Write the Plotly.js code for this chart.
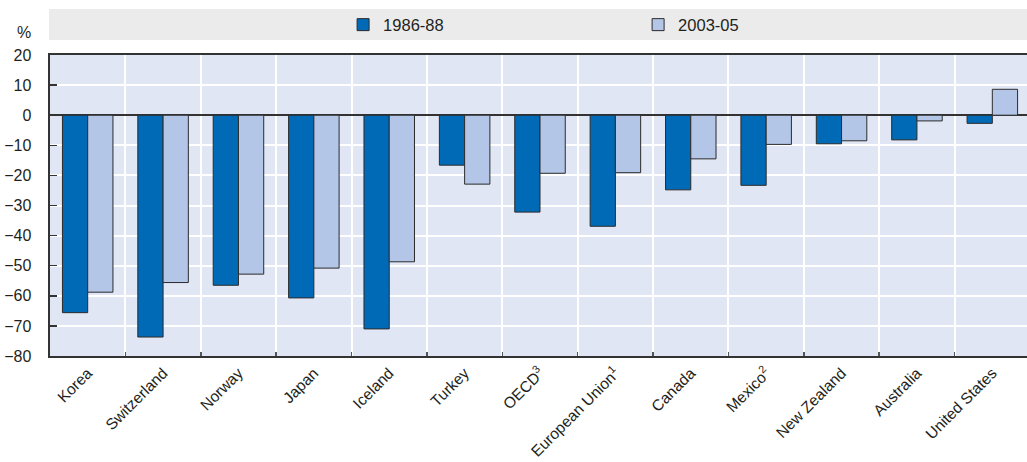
<!DOCTYPE html>
<html>
<head>
<meta charset="utf-8">
<script src="https://cdn.plot.ly/plotly-3.0.1.min.js"></script>
<style>
  html, body { margin: 0; padding: 0; background: #ffffff; overflow: hidden; }
  #chart { width: 1027px; height: 462px; }
</style>
</head>
<body>
<div id="chart"></div>
<script>
const categories = ["Korea", "Switzerland", "Norway", "Japan", "Iceland", "Turkey", "OECD<sup>3</sup>", "European Union<sup>1</sup>", "Canada", "Mexico<sup>2</sup>", "New Zealand", "Australia", "United States"];
const seriesNames = ["1986-88", "2003-05"];
const values1986_88 = [-65.6, -73.7, -56.5, -60.7, -71.0, -16.6, -32.2, -36.9, -24.8, -23.3, -9.5, -8.2, -2.7];
const values2003_05 = [-58.8, -55.6, -52.8, -50.8, -48.7, -22.9, -19.3, -19.1, -14.5, -9.7, -8.5, -1.9, 8.6];
const yTickValues = [-80, -70, -60, -50, -40, -30, -20, -10, 0, 10, 20];

const FONT = '"Liberation Sans Narrow", "Arial Narrow", "Liberation Sans", Arial, sans-serif';
const TXT = '#231f20';

const traces = [
  {
    type: 'bar', name: seriesNames[0], x: categories, y: values1986_88,
    marker: { color: '#006ab7', line: { color: '#2b2b2b', width: 1 } }
  },
  {
    type: 'bar', name: seriesNames[1], x: categories, y: values2003_05,
    marker: { color: '#b4c6e7', line: { color: '#2b2b2b', width: 1 } }
  }
];

const layout = {
  width: 1027, height: 462,
  margin: { l: 50, r: 0, t: 55, b: 106 },
  paper_bgcolor: '#ffffff',
  plot_bgcolor: '#e0e6f3',
  font: { family: FONT, size: 16, color: TXT },
  barmode: 'group',
  bargap: 0.33,
  bargroupgap: 0,
  showlegend: true,
  legend: {
    orientation: 'h',
    x: 0.3, xanchor: 'left',
    y: 1.1, yanchor: 'middle',
    bgcolor: 'rgba(0,0,0,0)',
    font: { family: FONT, size: 16.5, color: TXT },
    entrywidth: 250, entrywidthmode: 'pixels',
    traceorder: 'normal'
  },
  xaxis: {
    type: 'category',
    range: [-0.5, 12.46],
    tickson: 'boundaries',
    ticks: 'inside', ticklen: 4, tickcolor: '#555555', tickwidth: 1.5,
    showgrid: true, gridcolor: '#ffffff', gridwidth: 2,
    showline: true, linecolor: '#333333', linewidth: 2, mirror: true,
    tickangle: -45,
    tickfont: { family: FONT, size: 15.5, color: TXT },
    fixedrange: true
  },
  yaxis: {
    range: [-80, 20],
    tickvals: yTickValues,
    ticks: 'inside', ticklen: 7, tickcolor: '#333333', tickwidth: 1.5,
    showgrid: true, gridcolor: '#ffffff', gridwidth: 2,
    showline: true, linecolor: '#333333', linewidth: 2.5,
    zeroline: true, zerolinecolor: '#333333', zerolinewidth: 2,
    ticklabelstandoff: 13,
    tickfont: { family: FONT, size: 16, color: TXT },
    fixedrange: true
  },
  shapes: [
    {
      type: 'rect', xref: 'paper', yref: 'paper',
      x0: -0.001, x1: 1, y0: 1.0498, y1: 1.1528,
      fillcolor: '#ebebeb', line: { width: 0 }, layer: 'below'
    }
  ],
  annotations: [
    {
      text: '%', xref: 'paper', yref: 'paper',
      x: -0.027, y: 1.075, xanchor: 'center', yanchor: 'middle',
      showarrow: false, font: { family: FONT, size: 16, color: TXT }
    }
  ]
};

Plotly.newPlot('chart', traces, layout, { displayModeBar: false, staticPlot: true });
</script>
</body>
</html>
